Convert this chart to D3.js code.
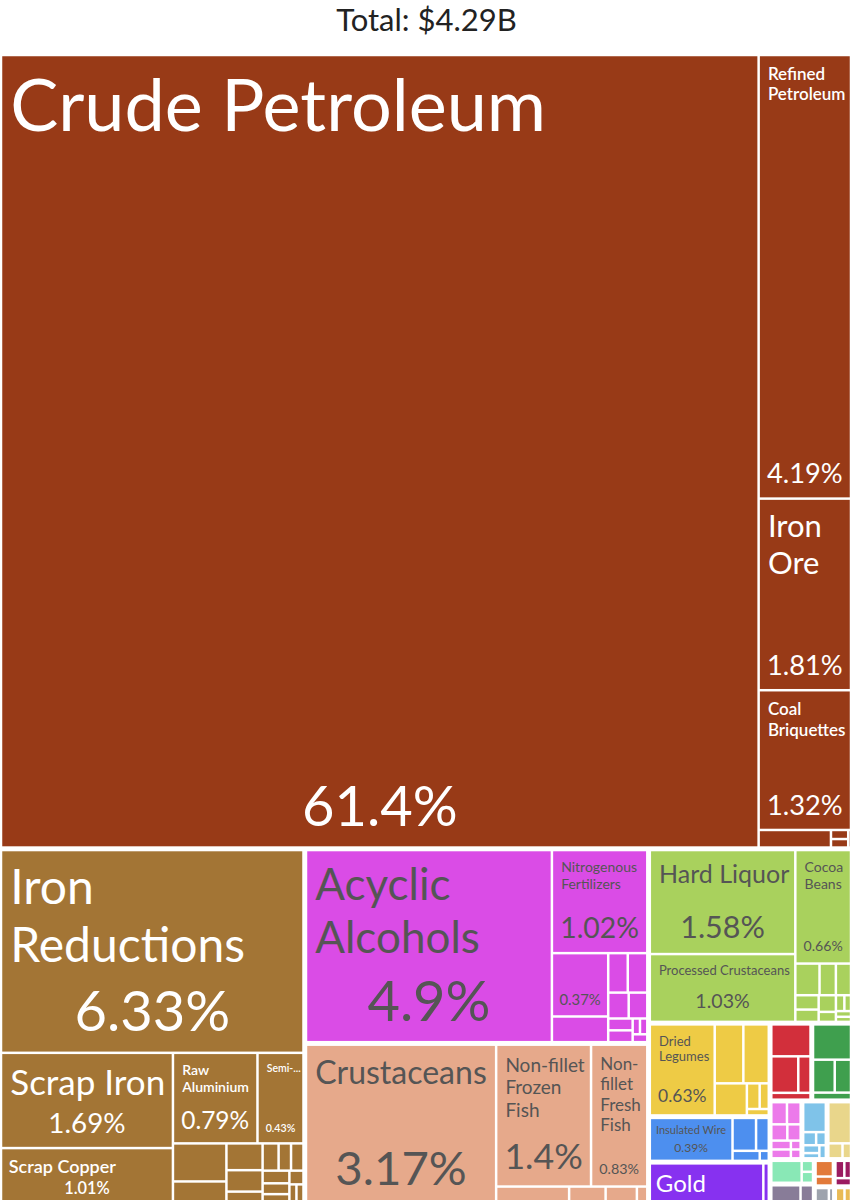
<!DOCTYPE html>
<html>
<head>
<meta charset="utf-8">
<script src="https://cdn.jsdelivr.net/npm/d3@7"></script>
<style>
  body { margin: 0; background: #fff; }
  svg { display: block; }
</style>
</head>
<body>
<svg></svg>
<script>
let width = 853;
let height = 1200;
let totalLabel = "$4.29B";

// product sections (top level of the treemap)
let groups = [
  "Mineral Products", "Metals", "Chemical Products", "Animal Products", "Foodstuffs",
  "Vegetable Products", "Machines", "Precious Metals", "Textiles", "Plastics and Rubbers",
  "Paper Goods", "Transportation", "Miscellaneous", "Instruments", "Stone And Glass",
  "Animal Hides", "Wood Products", "Animal and Vegetable Bi-Products", "Footwear and Headwear"
];
let groupColors = [
  "#983A17", "#A37535", "#DA4CE6", "#E6A98B", "#A9D15D",
  "#EECB45", "#4D8FEF", "#8731F0", "#D22F3B", "#3F9F4E",
  "#EC7AEA", "#7FC3E9", "#E9D68B", "#89E8B6", "#887C98",
  "#9B1B60", "#E27A3A", "#E9BA55", "#9EA3AD"
];

// products, the section each belongs to, and share of total exports (%)
let products = [
  "Crude Petroleum", "Refined Petroleum", "Iron Ore", "Coal Briquettes", "Petroleum Coke", "Petroleum Gas", "Sulphur", "Cement",
  "Iron Reductions", "Scrap Iron", "Scrap Copper", "Raw Aluminium", "Semi-Finished Iron", "Aluminium Plating", "Hot-Rolled Iron",
  "Aluminium Bars", "Scrap Aluminium", "Iron Pipes", "Raw Iron Bars", "Aluminium Foil", "Ferroalloys", "Iron Structures",
  "Pig Iron", "Copper Wire", "Iron Wire", "Aluminium Wire", "Zinc Waste",
  "Acyclic Alcohols", "Nitrogenous Fertilizers", "Ammonia", "Ethers", "Carboxylic Acids", "Hydrogen",
  "Mixed Mineral or Chemical Fertilizers", "Cyclic Hydrocarbons", "Phenols", "Cleaning Products", "Paints", "Catalysts", "Glues",
  "Crustaceans", "Non-fillet Frozen Fish", "Non-fillet Fresh Fish", "Molluscs", "Fish Fillets", "Bovine", "Cheese",
  "Hard Liquor", "Processed Crustaceans", "Cocoa Beans", "Cocoa Paste", "Cocoa Butter", "Beer", "Rolled Tobacco",
  "Cocoa Powder", "Chocolate", "Fruit Juice", "Sauces and Seasonings", "Baked Goods", "Animal Food", "Water",
  "Dried Legumes", "Coffee", "Tropical Fruits", "Bananas", "Onions", "Pepper", "Cut Flowers",
  "Insulated Wire", "Electric Generating Sets", "Valves", "Computers", "Electric Motors",
  "Gold", "Silver",
  "Synthetic Filament Yarn", "Used Clothing", "Tarpaulins", "Knit T-shirts",
  "Ethylene Polymers", "Propylene Polymers", "Plastic Lids", "Rubber Tires",
  "Paper Containers", "Toilet Paper", "Cartons", "Uncoated Paper", "Labels", "Printed Books", "Wallpaper", "Newspapers",
  "Cars", "Vehicle Parts", "Aircraft Parts", "Boats", "Trucks", "Tractors",
  "Furniture", "Seats", "Mattresses",
  "Medical Instruments", "Optical Fibers", "Measuring Instruments",
  "Glass Bottles", "Ceramic Tiles",
  "Raw Hides", "Leather", "Handbags",
  "Sawn Wood", "Wood Charcoal",
  "Vegetable Oils", "Margarine",
  "Footwear", "Hats"
];
let productGroups = [
  "Mineral Products", "Mineral Products", "Mineral Products", "Mineral Products", "Mineral Products", "Mineral Products", "Mineral Products", "Mineral Products",
  "Metals", "Metals", "Metals", "Metals", "Metals", "Metals", "Metals",
  "Metals", "Metals", "Metals", "Metals", "Metals", "Metals", "Metals",
  "Metals", "Metals", "Metals", "Metals", "Metals",
  "Chemical Products", "Chemical Products", "Chemical Products", "Chemical Products", "Chemical Products", "Chemical Products",
  "Chemical Products", "Chemical Products", "Chemical Products", "Chemical Products", "Chemical Products", "Chemical Products", "Chemical Products",
  "Animal Products", "Animal Products", "Animal Products", "Animal Products", "Animal Products", "Animal Products", "Animal Products",
  "Foodstuffs", "Foodstuffs", "Foodstuffs", "Foodstuffs", "Foodstuffs", "Foodstuffs", "Foodstuffs",
  "Foodstuffs", "Foodstuffs", "Foodstuffs", "Foodstuffs", "Foodstuffs", "Foodstuffs", "Foodstuffs",
  "Vegetable Products", "Vegetable Products", "Vegetable Products", "Vegetable Products", "Vegetable Products", "Vegetable Products", "Vegetable Products",
  "Machines", "Machines", "Machines", "Machines", "Machines",
  "Precious Metals", "Precious Metals",
  "Textiles", "Textiles", "Textiles", "Textiles",
  "Plastics and Rubbers", "Plastics and Rubbers", "Plastics and Rubbers", "Plastics and Rubbers",
  "Paper Goods", "Paper Goods", "Paper Goods", "Paper Goods", "Paper Goods", "Paper Goods", "Paper Goods", "Paper Goods",
  "Transportation", "Transportation", "Transportation", "Transportation", "Transportation", "Transportation",
  "Miscellaneous", "Miscellaneous", "Miscellaneous",
  "Instruments", "Instruments", "Instruments",
  "Stone And Glass", "Stone And Glass",
  "Animal Hides", "Animal Hides", "Animal Hides",
  "Wood Products", "Wood Products",
  "Animal and Vegetable Bi-Products", "Animal and Vegetable Bi-Products",
  "Footwear and Headwear", "Footwear and Headwear"
];
let shares = [
  61.4, 4.19, 1.81, 1.32, 0.13, 0.016, 0.015, 0.005,
  6.33, 1.69, 1.01, 0.79, 0.43, 0.21, 0.13,
  0.1, 0.08, 0.05, 0.045, 0.035, 0.035, 0.035,
  0.03, 0.03, 0.015, 0.015, 0.02,
  4.9, 1.02, 0.37, 0.15, 0.08, 0.08,
  0.055, 0.05, 0.03, 0.03, 0.012, 0.012, 0.012,
  3.17, 1.4, 0.83, 0.14, 0.07, 0.06, 0.02,
  1.58, 1.03, 0.66, 0.08, 0.054, 0.05, 0.035,
  0.03, 0.03, 0.018, 0.014, 0.011, 0.009, 0.008,
  0.63, 0.18, 0.16, 0.11, 0.035, 0.025, 0.015,
  0.39, 0.085, 0.046, 0.03, 0.01,
  0.52, 0.025,
  0.14, 0.11, 0.05, 0.03,
  0.15, 0.08, 0.06, 0.03,
  0.04, 0.035, 0.03, 0.025, 0.02, 0.02, 0.01, 0.01,
  0.08, 0.02, 0.015, 0.015, 0.01, 0.01,
  0.11, 0.025, 0.015,
  0.08, 0.015, 0.015,
  0.07, 0.03,
  0.02, 0.015, 0.015,
  0.035, 0.02,
  0.02, 0.015,
  0.03, 0.01
];

let FONT = 'Lato, "Source Sans Pro", "Noto Sans", sans-serif';

let svg = d3.select("svg");
let color = d3.scaleOrdinal().domain(groups).range(groupColors);
let fmt = d3.format(".3~r");

let ctx = document.createElement("canvas").getContext("2d");
let measure = (text, size, weight) => {
  ctx.font = weight + " " + size + "px " + FONT;
  return ctx.measureText(text).width;
};

let isLight = c => {
  let rgb = d3.rgb(c);
  return (rgb.r * 299 + rgb.g * 587 + rgb.b * 114) / 1000 >= 128;
};

let tokenize = name => {
  let out = [];
  name.split(" ").forEach((word, i) => {
    word.split(/(?<=-)/).forEach((part, j) => {
      out.push({ text: part, space: i > 0 && j === 0 });
    });
  });
  return out;
};

let breakLines = (tokens, size, weight, maxW) => {
  let lines = [];
  let line = "";
  tokens.forEach(t => {
    let cand = line === "" ? t.text : line + (t.space ? " " : "") + t.text;
    if (line === "" || measure(cand, size, weight) <= maxW) line = cand;
    else {
      lines.push(line);
      line = t.text;
    }
  });
  lines.push(line);
  return lines;
};

let fitName = (tokens, w, availH, light, pad) => {
  let maxW = w - pad - 4;
  let top = Math.min(72, Math.floor(w * 0.35));
  for (let s = top; s >= 11; s--) {
    let weight = !light && s < 20 ? 600 : 400;
    let lines = breakLines(tokens, s, weight, maxW);
    let fits = lines.every(l => measure(l, s, weight) <= maxW);
    if (fits && lines.length * s * 1.2 <= availH) {
      return { lines: lines, size: s, weight: weight };
    }
  }
  // smallest size: cut the name and add an ellipsis
  let s = 10.5;
  let weight = light ? 400 : 600;
  let cutW = w - pad;
  let maxLines = Math.floor(availH / (s * 1.2));
  if (maxLines < 1) return null;
  let lines = breakLines(tokens, s, weight, maxW);
  let keep = [];
  for (let l of lines) {
    if (keep.length < maxLines && measure(l, s, weight) <= maxW) keep.push(l);
    else break;
  }
  if (!keep.length) return null;
  if (keep.length < lines.length) {
    let last = keep[keep.length - 1];
    let t = last + "...";
    while (measure(t, s, weight) > cutW && last.length > 0) {
      last = last.slice(0, -1);
      t = last + "...";
    }
    if (!last.length) return null;
    keep[keep.length - 1] = t;
  }
  return { lines: keep, size: s, weight: weight };
};

let drawCanvas = () => {
  svg.attr("width", width).attr("height", height);
  svg.append("text")
    .attr("x", width / 2)
    .attr("y", 31)
    .attr("text-anchor", "middle")
    .attr("font-family", FONT)
    .attr("font-size", 31)
    .attr("fill", "#222")
    .text("Total: " + totalLabel);
};

let drawTreemap = () => {
  let tree = {
    name: "root",
    children: groups.map(g => ({
      name: g,
      children: products
        .map((p, i) => ({ name: p, group: productGroups[i], value: shares[i] }))
        .filter(d => d.group === g),
    })),
  };

  let root = d3.hierarchy(tree)
    .sum(d => d.value || 0)
    .sort((a, b) => b.value - a.value);

  d3.treemap()
    .tile(d3.treemapSquarify)
    .size([850, 1150])
    .paddingInner(2.5)
    .paddingOuter(d => (d.depth === 1 ? 1.25 : 0))(root);

  let chart = svg.append("g").attr("transform", "translate(1, 55)");

  let cells = chart.selectAll("g.cell")
    .data(root.leaves())
    .enter()
    .append("g")
    .attr("class", "cell");

  cells.append("rect")
    .attr("x", d => d.x0)
    .attr("y", d => d.y0)
    .attr("width", d => d.x1 - d.x0)
    .attr("height", d => d.y1 - d.y0)
    .attr("fill", d => color(d.data.group));

  cells.each(function (d) {
    let g = d3.select(this);
    let w = d.x1 - d.x0;
    let h = d.y1 - d.y0;
    if (w < 40 || h < 30 || w * h < 2500) return;

    let pad = Math.max(4, Math.min(8, h * 0.12));
    let light = isLight(color(d.data.group));
    let fill = light ? "#555" : "#fff";
    let pctText = fmt(d.data.value) + "%";
    let pctSize = Math.min(56, h * 0.3, (100 * (w - 2 * pad + 2)) / measure(pctText, 100, 400));
    if (pctSize < 10) pctSize = 0;

    let tokens = tokenize(d.data.name);
    let name = fitName(tokens, w, h - 2 * pad - (pctSize ? pctSize * 1.2 : 0), light, pad);
    if (pctSize) {
      // a short, flat box keeps only the name when it can be much larger alone
      let alt = fitName(tokens, w, h - 2 * pad, light, pad);
      if (alt && (!name || (pctSize < 14 && alt.size >= name.size * 1.4))) {
        name = alt;
        pctSize = 0;
      }
    }

    if (name) {
      let t = g.append("text")
        .attr("font-family", FONT)
        .attr("font-size", name.size)
        .attr("font-weight", name.weight)
        .attr("fill", fill);
      name.lines.forEach((line, i) => {
        t.append("tspan")
          .attr("x", d.x0 + pad)
          .attr("y", d.y0 + pad + name.size * 0.93 + i * name.size * 1.2)
          .text(line);
      });
    }

    if (pctSize) {
      g.append("text")
        .attr("x", d.x0 + w / 2)
        .attr("y", d.y1 - pad - pctSize * 0.22)
        .attr("text-anchor", "middle")
        .attr("font-family", FONT)
        .attr("font-size", pctSize)
        .attr("font-weight", !light && pctSize < 20 ? 600 : 400)
        .attr("fill", fill)
        .text(pctText);
    }
  });
};

drawCanvas();
drawTreemap();
</script>
</body>
</html>
